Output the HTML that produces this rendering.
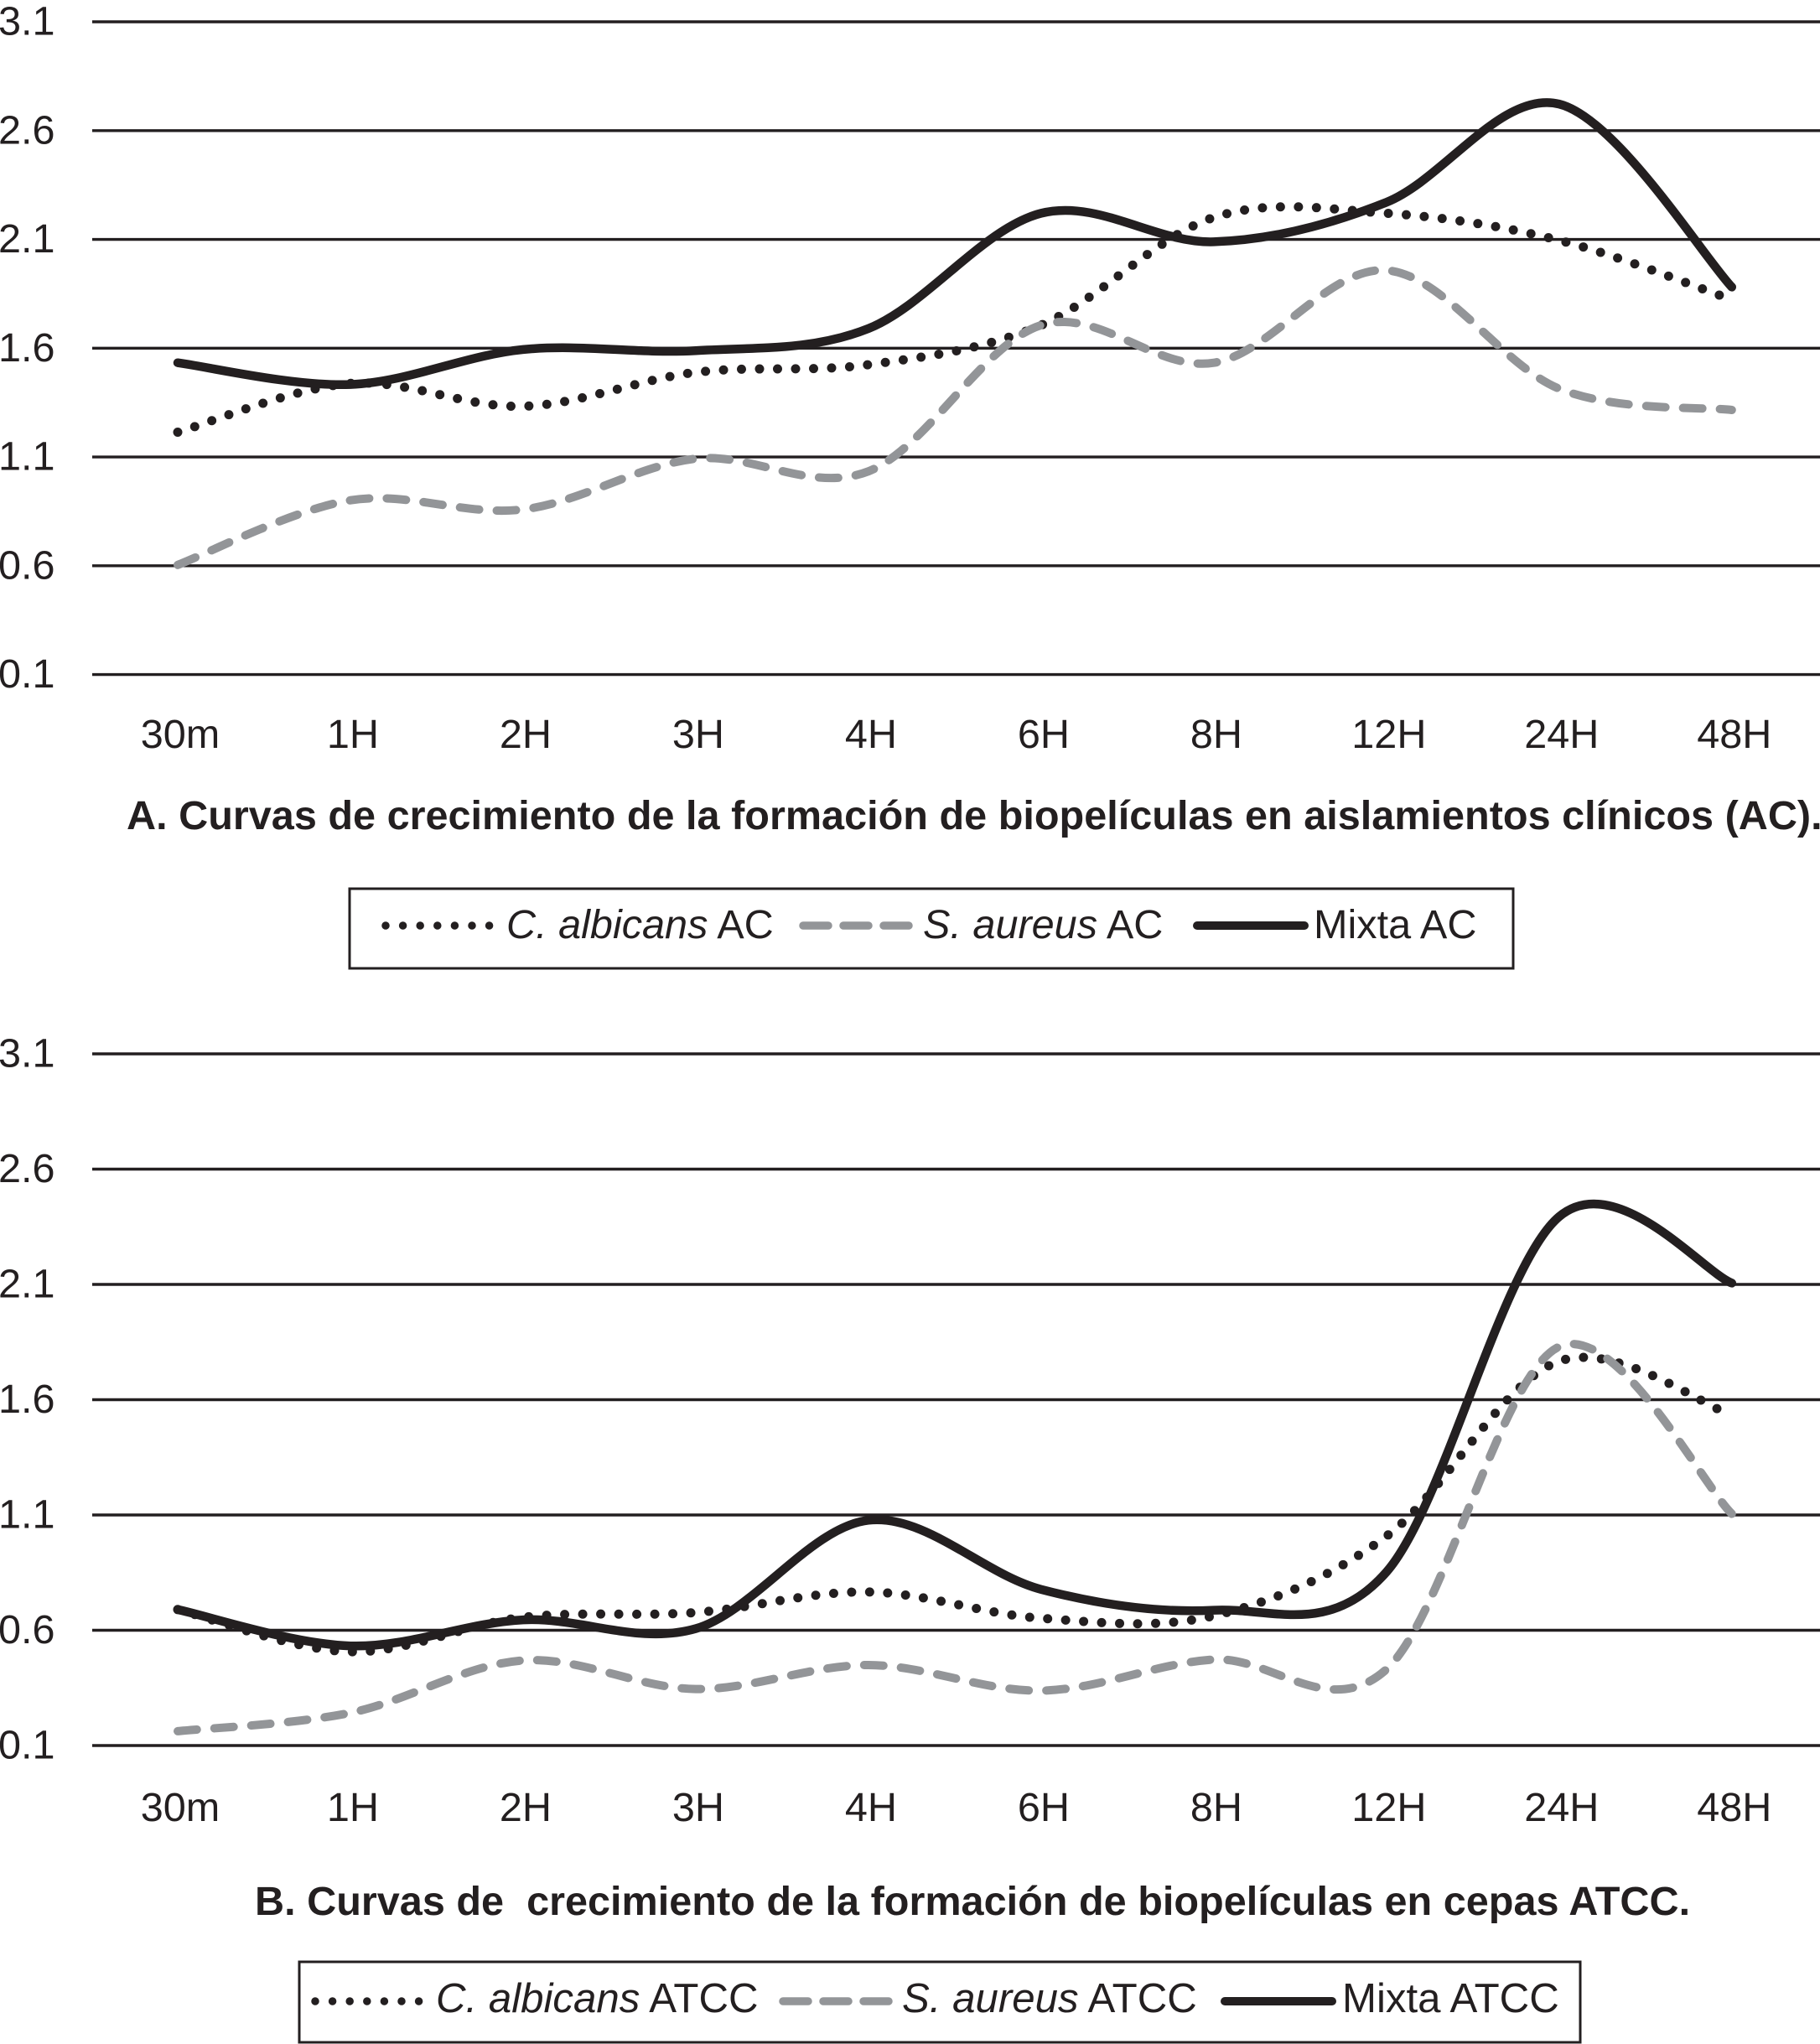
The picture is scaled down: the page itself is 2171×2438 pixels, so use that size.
<!DOCTYPE html>
<html lang="es">
<head>
<meta charset="utf-8">
<title>Curvas de crecimiento de biopelículas</title>
<style>
html,body{margin:0;padding:0;background:#fff;}
svg{display:block;}
text{font-family:"Liberation Sans",sans-serif;fill:#231f20;}
.tick{font-size:48.6px;}
.title{font-size:48.6px;font-weight:bold;}
.leg{font-size:48.6px;}
.legb{font-size:49.2px;}
.it{font-style:italic;}
</style>
</head>
<body>
<svg id="figure" xmlns="http://www.w3.org/2000/svg" width="2171" height="2438" viewBox="0 0 2171 2438">
  <rect x="0" y="0" width="2171" height="2438" fill="#fff"/>
  <g id="chartA"></g>
  <g id="chartB"></g>

  <text class="title" x="151" y="989">A. Curvas de crecimiento de la formación de biopelículas en aislamientos clínicos (AC).</text>
  <text class="title" x="304" y="2284" xml:space="preserve">B. Curvas de  crecimiento de la formación de biopelículas en cepas ATCC.</text>

  <g>
    <rect x="417" y="1060" width="1388" height="95" fill="none" stroke="#231f20" stroke-width="3"/>
    <line x1="460" y1="1104" x2="584" y2="1104" stroke="#231f20" stroke-width="9.5" stroke-linecap="round" stroke-dasharray="0 20.6"/>
    <text class="leg" x="604" y="1119"><tspan class="it">C. albicans</tspan> AC</text>
    <line x1="958" y1="1104" x2="1084" y2="1104" stroke="#939598" stroke-width="9.5" stroke-linecap="round" stroke-dasharray="30 18"/>
    <text class="leg" x="1101" y="1119"><tspan class="it">S. aureus</tspan> AC</text>
    <line x1="1428" y1="1104" x2="1556" y2="1104" stroke="#231f20" stroke-width="10" stroke-linecap="round"/>
    <text class="leg" x="1567" y="1119">Mixta AC</text>
  </g>

  <g>
    <rect x="357" y="2340" width="1528" height="96" fill="none" stroke="#231f20" stroke-width="3"/>
    <line x1="376" y1="2387" x2="500" y2="2387" stroke="#231f20" stroke-width="9.5" stroke-linecap="round" stroke-dasharray="0 20.6"/>
    <text class="legb" x="520" y="2400"><tspan class="it">C. albicans</tspan> ATCC</text>
    <line x1="934" y1="2387" x2="1060" y2="2387" stroke="#939598" stroke-width="9.5" stroke-linecap="round" stroke-dasharray="30 18"/>
    <text class="legb" x="1076" y="2400"><tspan class="it">S. aureus</tspan> ATCC</text>
    <line x1="1461" y1="2387" x2="1589" y2="2387" stroke="#231f20" stroke-width="10" stroke-linecap="round"/>
    <text class="legb" x="1601" y="2400">Mixta ATCC</text>
  </g>
</svg>
<script>
const categories = ["30m","1H","2H","3H","4H","6H","8H","12H","24H","48H"];
const yTicks = [3.1,2.6,2.1,1.6,1.1,0.6,0.1];

const albicansAC = [1.214,1.438,1.333,1.489,1.524,1.706,2.201,2.220,2.096,1.823];
const aureusAC   = [0.604,0.901,0.859,1.092,1.034,1.706,1.533,1.958,1.414,1.316];
const mixtaAC    = [1.533,1.433,1.594,1.589,1.690,2.220,2.089,2.271,2.722,1.881];

const albicansATCC = [0.690,0.507,0.656,0.677,0.766,0.652,0.663,1.008,1.767,1.533];
const aureusATCC   = [0.162,0.242,0.469,0.345,0.449,0.338,0.473,0.431,1.830,1.105];
const mixtaATCC    = [0.690,0.532,0.645,0.607,1.077,0.777,0.687,0.853,2.394,2.106];

const SVG_NS = "http://www.w3.org/2000/svg";
const INK = "#231f20";
const GREY = "#939598";

function x(i){ return 212 + 205.98 * i; }
function makeY(top, bottom){
  const hi = yTicks[0], lo = yTicks[yTicks.length - 1];
  return function(v){ return top + (hi - v) / (hi - lo) * (bottom - top); };
}
const yA = makeY(26, 804.6);
const yB = makeY(1257, 2082);

function smoothPath(values, y){
  const p = values.map(function(v, i){ return [x(i), y(v)]; });
  let d = "M" + p[0][0].toFixed(1) + " " + p[0][1].toFixed(1);
  for (let i = 0; i < p.length - 1; i++){
    const p0 = p[Math.max(i - 1, 0)], p1 = p[i], p2 = p[i + 1], p3 = p[Math.min(i + 2, p.length - 1)];
    const c1x = p1[0] + (p2[0] - p0[0]) / 6, c1y = p1[1] + (p2[1] - p0[1]) / 6;
    const c2x = p2[0] - (p3[0] - p1[0]) / 6, c2y = p2[1] - (p3[1] - p1[1]) / 6;
    d += "C" + c1x.toFixed(1) + " " + c1y.toFixed(1) + " " + c2x.toFixed(1) + " " + c2y.toFixed(1) + " " + p2[0].toFixed(1) + " " + p2[1].toFixed(1);
  }
  return d;
}

function drawAxes(group, prefix, y, xLabelBaseline){
  yTicks.forEach(function(t){
    const line = document.createElementNS(SVG_NS, "line");
    
    
    line.setAttribute("x1", 110);
    line.setAttribute("x2", 2171);
    line.setAttribute("y1", y(t));
    line.setAttribute("y2", y(t));
    line.setAttribute("stroke", INK);
    line.setAttribute("stroke-width", 3.4);
    group.appendChild(line);

    const label = document.createElementNS(SVG_NS, "text");
    
    
    label.setAttribute("class", "tick");
    label.setAttribute("x", -2);
    label.setAttribute("y", y(t) + 15.5);
    label.textContent = t.toFixed(1);
    group.appendChild(label);
  });
  categories.forEach(function(c, i){
    const label = document.createElementNS(SVG_NS, "text");
    
    
    label.setAttribute("class", "tick");
    label.setAttribute("x", x(i) + 3);
    label.setAttribute("y", xLabelBaseline);
    label.setAttribute("text-anchor", "middle");
    label.textContent = c;
    group.appendChild(label);
  });
}

function drawDotted(group, name, values, y){
  const path = document.createElementNS(SVG_NS, "path");
  
  
  path.setAttribute("d", smoothPath(values, y));
  path.setAttribute("fill", "none");
  path.setAttribute("stroke", INK);
  path.setAttribute("stroke-width", 11);
  path.setAttribute("stroke-linecap", "round");
  path.setAttribute("stroke-dasharray", "0 21.5");
  group.appendChild(path);
}
function drawDashed(group, name, values, y){
  const path = document.createElementNS(SVG_NS, "path");
  
  
  path.setAttribute("d", smoothPath(values, y));
  path.setAttribute("fill", "none");
  path.setAttribute("stroke", GREY);
  path.setAttribute("stroke-width", 10);
  path.setAttribute("stroke-linecap", "round");
  path.setAttribute("stroke-dasharray", "23 21");
  group.appendChild(path);
}
function drawSolid(group, name, values, y){
  const path = document.createElementNS(SVG_NS, "path");
  
  
  path.setAttribute("d", smoothPath(values, y));
  path.setAttribute("fill", "none");
  path.setAttribute("stroke", INK);
  path.setAttribute("stroke-width", 10.5);
  path.setAttribute("stroke-linecap", "round");
  path.setAttribute("stroke-linejoin", "round");
  group.appendChild(path);
}

const gA = document.getElementById("chartA");
const gB = document.getElementById("chartB");

drawAxes(gA, "chart-a", yA, 892);
drawDotted(gA, "line-albicans-ac", albicansAC, yA);
drawDashed(gA, "line-aureus-ac", aureusAC, yA);
drawSolid(gA, "line-mixta-ac", mixtaAC, yA);

drawAxes(gB, "chart-b", yB, 2172);
drawDotted(gB, "line-albicans-atcc", albicansATCC, yB);
drawDashed(gB, "line-aureus-atcc", aureusATCC, yB);
drawSolid(gB, "line-mixta-atcc", mixtaATCC, yB);
</script>
</body>
</html>
